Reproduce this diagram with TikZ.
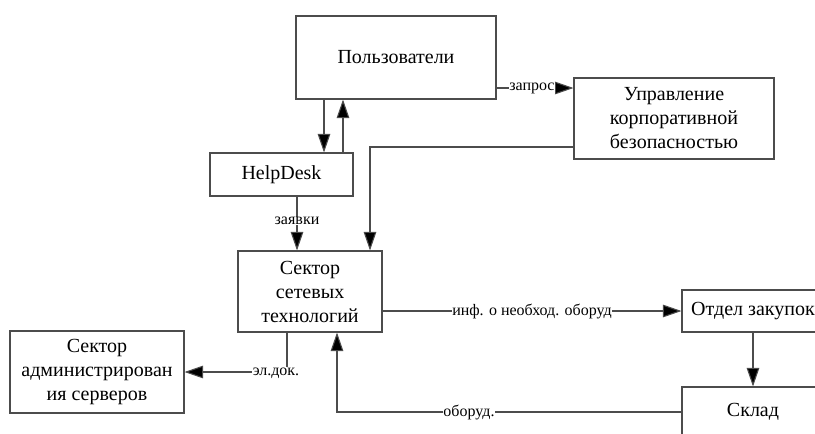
\documentclass[tikz,border=0pt]{standalone}
\usepackage{fontspec}
\setmainfont{Liberation Serif}
\usetikzlibrary{arrows.meta}
\begin{document}
\begin{tikzpicture}[x=0.75pt,y=-0.75pt,
  box/.style={draw=black!70,line width=0.8pt,fill=white,align=center,inner sep=0pt,
    font=\fontsize{15}{18}\selectfont},
  arr/.style={draw=black!70,line width=0.8pt,-{Triangle[length=14pt,width=9.5pt,fill=black]}},
  lbl/.style={fill=white,inner sep=0.3pt,font=\fontsize{12}{14}\selectfont}]
\useasboundingbox (0,0) rectangle (815,433);
\clip (0,0) rectangle (815,433);
\node[box,minimum width=150pt,minimum height=62.25pt] (users) at (396,57.5) {Пользователи};
\node[box,minimum width=150pt,minimum height=60.75pt] (upr) at (674,118.5) {Управление\\корпоративной\\безопасностью};
\node[box,minimum width=107.25pt,minimum height=32.25pt] (help) at (281.5,174.5) {HelpDesk};
\node[box,minimum width=108pt,minimum height=60.75pt] (sect) at (310,291.5) {Сектор\\сетевых\\технологий};
\node[box,minimum width=130.5pt,minimum height=61.5pt] (adm) at (97,372) {Сектор\\администрирован\\ия серверов};
\node[box,minimum width=106.5pt,minimum height=31.5pt] (otdel) at (753,311) {Отдел закупок};
\node[box,minimum width=106.5pt,minimum height=37.5pt] (sklad) at (753,412) {Склад};
\coordinate (xa) at (324,0);
\coordinate (xb) at (343,0);
\coordinate (xz) at (297,0);
\coordinate (c1) at (370,147);
\coordinate (xe) at (287,0);
\coordinate (xo) at (337,0);
\coordinate (yq) at (0,88);
% users <-> helpdesk
\draw[arr] (users.south -| xa) -- (help.north -| xa);
\draw[arr] (help.north -| xb) -- (users.south -| xb);
% zapros
\draw[arr] (users.east |- yq) -- (upr.west |- yq) node[lbl,pos=0.46] {запрос};
% upr -> sect
\draw[arr] (upr.west |- c1) -| (sect.north -| c1);
% zayavki
\draw[arr] (help.south -| xz) -- (sect.north -| xz) node[lbl,pos=0.45] {заявки};
% inf
\draw[arr] (sect.east |- otdel.west) -- (otdel.west) node[lbl,pos=0.5] {инф. о необход. оборуд};
% otdel -> sklad
\draw[arr] (otdel.south) -- (sklad.north);
% el.dok
\draw[arr] (sect.south -| xe) |- (adm.east);
\node[lbl] at (276,373) {эл.док.};
% oborud
\draw[arr] (sklad.west) -| (sect.south -| xo);
\node[lbl] at (469,412) {оборуд.};
\end{tikzpicture}
\end{document}
